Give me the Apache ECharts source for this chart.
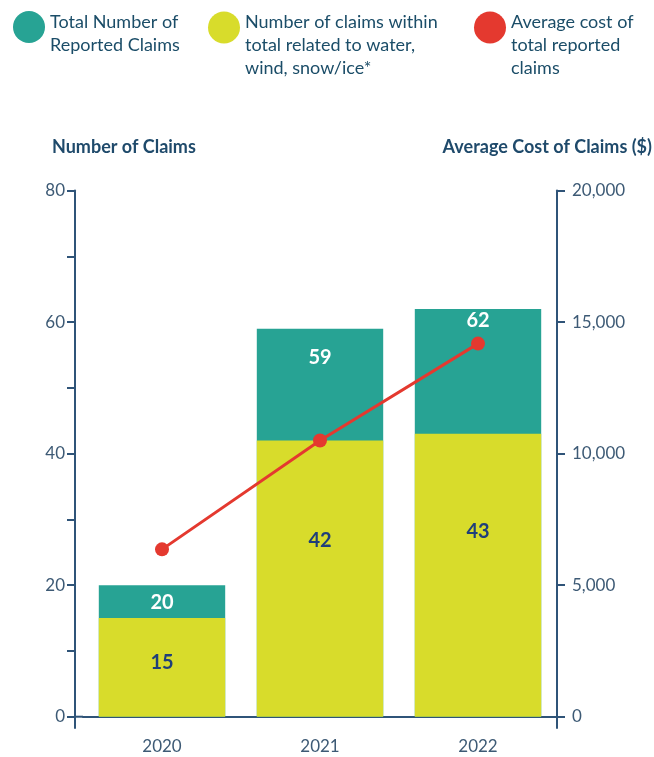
<!DOCTYPE html>
<html>
<head>
<meta charset="utf-8">
<script src="https://cdn.jsdelivr.net/npm/echarts@6/dist/echarts.min.js"></script>
<style>
html,body{margin:0;padding:0;background:#ffffff;}
#chart{width:654px;height:757px;}
</style>
</head>
<body>
<div id="chart"></div>
<script>
// ---- data ----
const categories = ['2020', '2021', '2022'];
const totalClaims = [20, 59, 62];
const weatherClaims = [15, 42, 43];
const avgCost = [6360, 10500, 14180];
const seriesNames = ['Total Number of Reported Claims', 'Number of claims within total related to water, wind, snow/ice*', 'Average cost of total reported claims'];
const legendLines = [['Total Number of', 'Reported Claims'], ['Number of claims within', 'total related to water,', 'wind, snow/ice*'], ['Average cost of', 'total reported', 'claims']];
const leftAxisTitle = 'Number of Claims';
const rightAxisTitle = 'Average Cost of Claims ($)';
const leftMax = 80, leftStep = 10, leftLabelStep = 20;
const rightMax = 20000, rightStep = 5000;

// ---- style ----
const TEAL = '#27a394', YELLOW = '#d8dc2b', RED = '#e4392f';
const AXIS = '#2f5478', LABEL = '#3d5a75', LEGTXT = '#1b4d68', NAVY = '#1f3f7a';
const FONT = 'Lato';
const tealLabelDrop = [7, 19, 2];
const yellowLabelDrop = [35, 90, 88];

const chart = echarts.init(document.getElementById('chart'), null, {renderer: 'canvas'});

function legendFor(i, left, top, spacer) {
  return {
    left: left, top: top, padding: 0,
    orient: 'horizontal', icon: 'circle', itemWidth: 32, itemHeight: 32, itemGap: 0,
    selectedMode: false,
    data: [{name: seriesNames[i], itemStyle: {color: [TEAL, YELLOW, RED][i]}}],
    formatter: () => '{sp|}\n' + legendLines[i].map(s => '{t|' + s + '}').join('\n'),
    textStyle: {fontFamily: FONT, fontSize: 18, color: LEGTXT,
      rich: {sp: {height: spacer, lineHeight: spacer, fontSize: 1},
             t: {fontFamily: FONT, fontSize: 18, lineHeight: 23, color: LEGTXT}}}
  };
}

const option = {
  backgroundColor: '#ffffff',
  animation: false,
  textStyle: {fontFamily: FONT},
  title: [
    {text: leftAxisTitle, left: 52, top: 138, padding: 0,
     textStyle: {fontFamily: FONT, fontSize: 18, fontWeight: 'bold', color: '#1f4a6b'}},
    {text: rightAxisTitle, right: 2, top: 138, padding: 0,
     textStyle: {fontFamily: FONT, fontSize: 18, fontWeight: 'bold', color: '#1f4a6b'}}
  ],
  legend: [legendFor(0, 13, -2.5, 13), legendFor(1, 208, -25, 36), legendFor(2, 474, -25, 36)],
  grid: {left: 83, right: 97, top: 190.5, bottom: 40.3},
  xAxis: {
    type: 'category', data: categories,
    axisLine: {lineStyle: {color: AXIS, width: 2}},
    axisTick: {alignWithLabel: true, length: 8, lineStyle: {color: AXIS, width: 2}},
    axisLabel: {margin: 21, fontSize: 17, color: LABEL, fontFamily: FONT}
  },
  yAxis: [
    {type: 'value', min: 0, max: leftMax, interval: leftStep, position: 'left', offset: 8,
     axisLine: {show: true, lineStyle: {color: AXIS, width: 2}},
     axisTick: {show: true, length: 8, lineStyle: {color: AXIS, width: 2}},
     splitLine: {show: false},
     axisLabel: {margin: 10, fontSize: 17, color: LABEL, fontFamily: FONT,
                 formatter: v => (v % leftLabelStep === 0 ? String(v) : '')}},
    {type: 'value', min: 0, max: rightMax, interval: rightStep, position: 'right',
     axisLine: {show: true, lineStyle: {color: AXIS, width: 2}},
     axisTick: {show: true, length: 8, lineStyle: {color: AXIS, width: 2}},
     splitLine: {show: false},
     axisLabel: {margin: 15, fontSize: 17, color: LABEL, fontFamily: FONT,
                 formatter: v => v.toLocaleString('en-US')}}
  ],
  series: [
    {name: seriesNames[0], type: 'bar', barWidth: '80%', barGap: '-100%', yAxisIndex: 0,
     itemStyle: {color: TEAL},
     data: totalClaims.map((v, i) => ({value: v, label: {offset: [0, tealLabelDrop[i]]}})),
     label: {show: true, position: 'insideTop', distance: 0, color: '#ffffff', fontSize: 20,
             fontWeight: 'bold', fontFamily: FONT}},
    {name: seriesNames[1], type: 'bar', barWidth: '80%', barGap: '-100%', yAxisIndex: 0,
     itemStyle: {color: YELLOW},
     data: weatherClaims.map((v, i) => ({value: v, label: {offset: [0, yellowLabelDrop[i]]}})),
     label: {show: true, position: 'insideTop', distance: 0, color: NAVY, fontSize: 20,
             fontWeight: 'bold', fontFamily: FONT}},
    {name: seriesNames[2], type: 'line', yAxisIndex: 1, data: avgCost,
     symbol: 'circle', symbolSize: 14, z: 5,
     lineStyle: {color: RED, width: 3}, itemStyle: {color: RED}}
  ]
};
chart.setOption(option);

// small axis-line extensions (left axis below zero, right axis below zero, x axis to the offset left axis)
const rect = chart.getModel().getComponent('grid').coordinateSystem.getRect();
const xL = rect.x - 8, xR = rect.x + rect.width, yB = rect.y + rect.height;
chart.setOption({graphic: [
  {type: 'line', shape: {x1: xL, y1: yB, x2: rect.x, y2: yB}, style: {stroke: AXIS, lineWidth: 2}},
  {type: 'line', shape: {x1: xL, y1: yB, x2: xL, y2: yB + 12}, style: {stroke: AXIS, lineWidth: 2}},
  {type: 'line', shape: {x1: xR, y1: yB, x2: xR, y2: yB + 12}, style: {stroke: AXIS, lineWidth: 2}}
]});
</script>
</body>
</html>
